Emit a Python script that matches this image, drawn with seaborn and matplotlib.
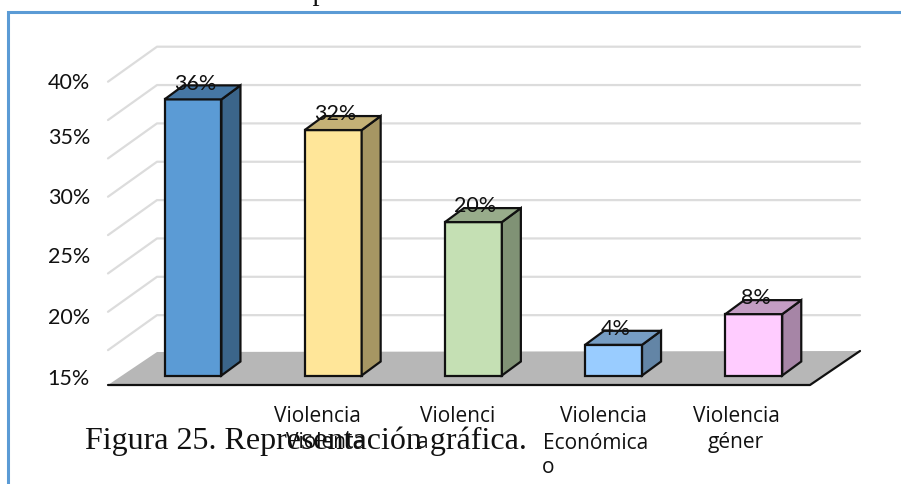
import numpy as np
import pandas as pd
import matplotlib
matplotlib.use("Agg")
import matplotlib.pyplot as plt
from matplotlib.patches import Polygon, Rectangle
from matplotlib.transforms import Affine2D
from matplotlib.colors import to_rgb
import seaborn as sns

# Datos.
categorias = ["Violencia 1", "Violencia 2", "Violencia 3", "Violencia 4", "Violencia 5"]
porcentajes = [36, 32, 20, 4, 8]
etiquetas = ["36%", "32%", "20%", "4%", "8%"]
colores = ["#5B9BD5", "#FFE699", "#C5E0B4", "#99CCFF", "#FFCCFF"]
ticks_pared = [5, 10, 15, 20, 25, 30, 35, 40]
labels_y = ["15%", "20%", "25%", "30%", "35%", "40%"]

W, H = 901, 485
sns.set_theme(style="white")
plt.rcParams["font.family"] = ["Lato", "DejaVu Sans"]

fig = plt.figure(figsize=(W / 100, H / 100), dpi=100)
ax = fig.add_axes([0, 0, 1, 1])
px = Affine2D().scale(1, -1).translate(0, H)  # pixeles, origen arriba a la izquierda

df = pd.DataFrame({"categoria": categorias, "porcentaje": porcentajes})
sns.barplot(data=df, x="categoria", y="porcentaje", hue="categoria", palette=colores,
            saturation=1, width=0.406, edgecolor="#111111", linewidth=1.6,
            legend=False, ax=ax, zorder=4)

# Escala: 140.2 px por categoria, 7.67 px por punto porcentual, base en y=376.
ax.set_xlim((0 - 193) / 140.2, (W - 193) / 140.2)
ax.set_ylim((376.5 - H) / 7.67, 376.5 / 7.67)
ax.set_axis_off()

# Paredes: lineas del fondo y diagonales.
px_cat, px_pct = 140.2, 7.67
fondo = 22 / px_pct
x_izq, x_fondo, x_der = (108 - 193) / px_cat, (157 - 193) / px_cat, (860 - 193) / px_cat
for v in ticks_pared:
    ax.plot([x_izq, x_fondo, x_der], [v + fondo - 35 / px_pct, v + fondo, v + fondo],
            color="#DCDCDC", lw=1.6, zorder=1, solid_joinstyle="round")

# Piso.
ax.add_patch(Polygon([(108, 386), (157, 353), (860, 352), (810, 386)], closed=True,
                     fc="#B7B7B7", ec="none", transform=px, zorder=2))
ax.plot([108, 810, 860], [386, 386, 352], color="#111111", lw=1.6, transform=px, zorder=3)

# Caras lateral y superior de cada barra.
dx, dy = 19 / px_cat, 14 / px_pct
for bar, color in zip(ax.patches, colores):
    x0, w, h = bar.get_x(), bar.get_width(), bar.get_height()
    rgb = np.array(to_rgb(color))
    ax.add_patch(Polygon([(x0 + w, 0), (x0 + w + dx, dy), (x0 + w + dx, h + dy), (x0 + w, h)],
                         fc=rgb * 0.65, ec="#111111", lw=1.6, zorder=4))
    ax.add_patch(Polygon([(x0, h), (x0 + dx, h + dy), (x0 + w + dx, h + dy), (x0 + w, h)],
                         fc=rgb * 0.77, ec="#111111", lw=1.6, zorder=4))

# Etiquetas de valor.
for i, (v, t) in enumerate(zip(porcentajes, etiquetas)):
    ax.text(i + 2 / px_cat, v + 1.4, t, ha="center", va="baseline", fontsize=15.5,
            color="#111111", zorder=5)

# Etiquetas del eje y.
for y, t in zip([379, 318, 257, 198, 138, 83], labels_y):
    ax.text(90, y, t, ha="right", va="center", fontsize=15.5, color="#111111",
            transform=px, zorder=5)

# Marco azul.
ax.plot([7.5, 7.5, W], [H, 13, 13], color="#5B9BD5", lw=2.2, transform=px, zorder=1,
        solid_joinstyle="miter")

# Textos de la pagina.
ax.text(120, 0, "Elaboración: Propia.", family="Liberation Serif", fontsize=20.5,
        va="baseline", color="#111111", transform=px, zorder=5)
ax.text(85, 449, "Figura 25. Representación gráfica.", family="Liberation Serif",
        fontsize=23, va="baseline", color="#111111", transform=px, zorder=6)

# Etiquetas de categoria, partidas y recortadas como en el documento.
recorte = Rectangle((0, 0), W, 452, transform=px)
tick_txt = [(317, 417, "Violencia"), (326, 443, "Violenta"), (458, 417, "Violenci"), (423, 443, "a"),
            (603, 417, "Violencia"), (596, 444, "Económica"), (736, 417, "Violencia"), (736, 443, "géner")]
for x, y, t in tick_txt:
    tx = ax.text(x, y, t, ha="center", va="center", fontsize=15, family="Open Sans",
                 color="#111111", transform=px, zorder=7)
    tx.set_clip_path(recorte)
ax.text(548, 468, "o", ha="center", va="center", fontsize=15, family="Open Sans",
        color="#111111", transform=px, zorder=7)

fig.savefig("out.png", dpi=100)
